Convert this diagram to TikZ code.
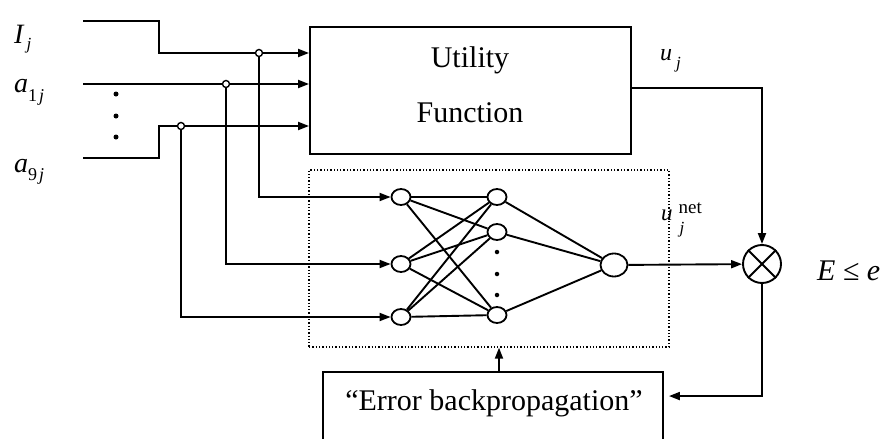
\documentclass[tikz,border=0pt]{standalone}
\usepackage{fontspec}
\setmainfont{Liberation Serif}
\usetikzlibrary{arrows.meta,shapes.geometric}
\begin{document}
\begin{tikzpicture}[x=1pt,y=-1pt,
  wire/.style={line width=1.9pt},
  arr/.style={wire,-{Triangle[length=11pt,width=8pt]}},
  neuron/.style={draw,ellipse,line width=1.8pt,minimum width=19pt,minimum height=16pt,inner sep=0pt,fill=white},
  junc/.style={draw,circle,line width=1.4pt,minimum size=7pt,inner sep=0pt,fill=white},
  blk/.style={draw,line width=1.9pt,inner sep=0pt},
  dotbox/.style={draw,dotted,line width=1.3pt,inner sep=0pt},
  big/.style={font=\fontsize{30}{30}\selectfont},
  lab/.style={font=\fontsize{28}{28}\selectfont\itshape,inner sep=0pt,anchor=base west},
  dotmark/.style={circle,fill=black,inner sep=0pt,minimum size=5pt}
]
\useasboundingbox (0,0) rectangle (884,439);

% Utility function block
\node[blk,minimum width=321pt,minimum height=127pt] (uf) at (470.5,90.5) {};
\node[big,anchor=base,inner sep=0pt] (ut) at (470,67) {Utility};
\node[big,anchor=base,inner sep=0pt] (fn) at (470,122) {Function};

% input labels
\node[lab] (lI) at (14,43) {I\hspace{3pt}\raisebox{-6pt}{\fontsize{17}{17}\selectfont j}};
\node[lab] (la1) at (14,92) {a\raisebox{-9pt}{\fontsize{18}{18}\selectfont\upshape 1\hspace{2pt}\itshape j}};
\node[lab] (la9) at (14,172) {a\raisebox{-8pt}{\fontsize{18}{18}\selectfont\upshape 9\hspace{2pt}\itshape j}};

% vertical dots
\node[dotmark] (d1) at (116,94) {};
\node[dotmark] (d2) at (116,116) {};
\node[dotmark] (d3) at (116,137) {};

% input wire coordinates
\coordinate (I0) at (83,21);
\coordinate (Ik) at (159,53);
\coordinate (A1) at (83,84);
\coordinate (A9) at (83,158);
\coordinate (A9k) at (159,126);
\coordinate (jIc) at (259,53);
\coordinate (ja1c) at (226,84);
\coordinate (ja9c) at (181,126);

% dotted network box
\node[dotbox,minimum width=360pt,minimum height=177pt] (netbox) at (489,258.5) {};

% neurons
\node[neuron] (in1) at (401,197) {};
\node[neuron] (in2) at (401,264) {};
\node[neuron] (in3) at (401,317) {};
\node[neuron] (h1) at (497,197) {};
\node[neuron] (h2) at (497,232) {};
\node[neuron] (h3) at (497,315) {};
\node[neuron,minimum width=27pt,minimum height=23pt] (out) at (614,265) {};
\node[dotmark,minimum size=4.5pt] (hd1) at (497,252) {};
\node[dotmark,minimum size=4.5pt] (hd2) at (497,274) {};
\node[dotmark,minimum size=4.5pt] (hd3) at (497,295) {};

% input wires
\draw[arr] (I0) -| (Ik) -- (uf.west |- Ik);
\draw[arr] (A1) -- (uf.west |- A1);
\draw[arr] (A9) -| (A9k) -- (uf.west |- A9k);
\draw[arr] (jIc) |- (in1.west);
\draw[arr] (ja1c) |- (in2.west);
\draw[arr] (ja9c) |- (in3.west);

% junctions
\node[junc] (jI) at (jIc) {};
\node[junc] (ja1) at (ja1c) {};
\node[junc] (ja9) at (ja9c) {};

% network connections
\foreach \i in {in1,in2,in3}
  \foreach \h in {h1,h2,h3}
    \draw[wire] (\i) -- (\h);
\foreach \h in {h1,h2,h3}
  \draw[wire] (\h) -- (out);

% comparator
\node[draw,circle,line width=1.9pt,minimum size=38pt,inner sep=0pt] (mul) at (762,264) {};
\draw[wire] (mul.north west) -- (mul.south east);
\draw[wire] (mul.north east) -- (mul.south west);

\draw[arr] (out) -- (mul);
\draw[arr] ([yshift=2.5pt]uf.east) -| (mul.north);

% labels
\node[lab,font=\fontsize{24}{24}\selectfont\itshape] (luj) at (660,60) {u\hspace{4pt}\raisebox{-8pt}{\fontsize{17}{17}\selectfont j}};
\node[lab,font=\fontsize{23}{23}\selectfont\itshape] (lnet) at (661,220) {u\hspace{6pt}\rlap{\raisebox{7pt}{\fontsize{19}{19}\selectfont\upshape net}}\hspace{1pt}\raisebox{-13pt}{\fontsize{17}{17}\selectfont j}};
\node[lab,font=\fontsize{30}{30}\selectfont] (lE) at (817,280) {\itshape E\upshape\ ≤ \itshape e};

% error backpropagation block (cut by the lower edge)
\begin{scope}
\clip (0,0) rectangle (884,439);
\node[blk,minimum width=340pt,minimum height=90pt] (eb) at (493,417) {};
\end{scope}
\node[big,anchor=base,inner sep=0pt] (ebt) at (494,410) {“Error backpropagation”};

\draw[arr] ([xshift=6pt]eb.north) -- ([xshift=6pt]eb.north |- netbox.south);
\draw[arr] (mul.south) |- ([xshift=5pt,yshift=-25pt]eb.north east);
\end{tikzpicture}
\end{document}
